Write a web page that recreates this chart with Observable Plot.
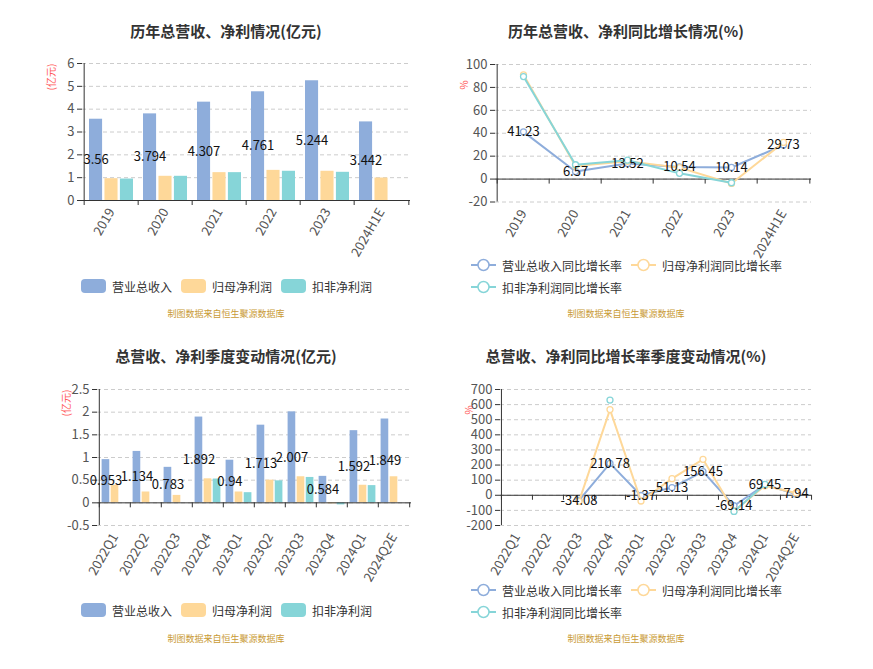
<!DOCTYPE html>
<html><head><meta charset="utf-8">
<script src="https://cdn.jsdelivr.net/npm/d3@7"></script>
<script src="https://cdn.jsdelivr.net/npm/@observablehq/plot@0.6"></script>
<style>
body{margin:0;background:#fff;font-family:"Noto Sans CJK SC","Noto Sans",sans-serif;}
#root{position:relative;width:873px;height:669px;overflow:hidden;background:#fff}
.abs{position:absolute;white-space:nowrap}
.c{transform:translate(-50%,-50%)}
.title{font-weight:bold;font-size:15px;color:#333}
.cap{font-size:9px;color:#c99a34}
.unit{font-size:10px;color:#ff5a5a;transform:translate(-50%,-50%) rotate(-90deg)}
.leg{font-size:12px;color:#333;display:flex;align-items:center}
.leg svg{margin-right:6px}
</style></head>
<body><div id="root"></div>
<script>
// ---------- data ----------
const years = ["2019","2020","2021","2022","2023","2024H1E"];
const barSeries = ["营业总收入","归母净利润","扣非净利润"];
const annualRevenue = [3.56,3.794,4.307,4.761,5.244,3.442];
const annualNetProfit = [0.956,1.06,1.22,1.32,1.28,0.985];
const annualDeducted = [0.94,1.06,1.22,1.28,1.235,null];

const growthSeries = ["营业总收入同比增长率","归母净利润同比增长率","扣非净利润同比增长率"];
const annualRevenueGrowth = [41.23,6.57,13.52,10.54,10.14,29.73];
const annualNetGrowth = [91,11.5,15.5,10,-3.8,32];
const annualDeductedGrowth = [89.5,12.5,16.5,5,-3.2,null];

const quarters = ["2022Q1","2022Q2","2022Q3","2022Q4","2023Q1","2023Q2","2023Q3","2023Q4","2024Q1","2024Q2E"];
const qRevenue = [0.953,1.134,0.783,1.892,0.94,1.713,2.007,0.584,1.592,1.849];
const qNetProfit = [0.388,0.239,0.164,0.53,0.239,0.5,0.575,-0.022,0.388,0.575];
const qDeducted = [null,null,null,0.525,0.224,0.485,0.56,-0.045,0.38,null];

const qRevenueGrowth = [null,null,-34.08,210.78,-1.37,51.13,156.45,-69.14,69.45,7.94];
const qNetGrowth = [null,null,-40,567,-38,110,238,-104,63,15];
const qDeductedGrowth = [null,null,null,630,null,null,null,-107,72,null];

const ticks1 = [0,1,2,3,4,5,6];
const ticks2 = [-20,0,20,40,60,80,100];
const ticks3 = [-0.5,0,0.5,1,1.5,2,2.5];
const ticks4 = [-200,-100,0,100,200,300,400,500,600,700];

const titles = ["历年总营收、净利情况(亿元)","历年总营收、净利同比增长情况(%)","总营收、净利季度变动情况(亿元)","总营收、净利同比增长率季度变动情况(%)"];
const caption = "制图数据来自恒生聚源数据库";

// ---------- style ----------
const colors = ["#8eaddb","#fed899","#86d5d8"];
const axisColor = "#333";
const labelColor = "#555";
const FONT = '"Noto Sans CJK SC","Noto Sans",sans-serif';
const root = document.getElementById("root");

function abs(html, x, y, cls){
  const d = document.createElement("div");
  d.className = "abs " + cls;
  d.style.left = x + "px"; d.style.top = y + "px";
  d.innerHTML = html;
  root.appendChild(d);
  return d;
}

function frameMarks(cats, step, yTicks){
  const n = cats.length;
  return [
    Plot.ruleY([0], {stroke: axisColor, strokeWidth: 1}),
    Plot.ruleX([cats[0]], {y1: yTicks[0], y2: yTicks[yTicks.length-1], dx: -step/2, stroke: axisColor}),
    Plot.ruleX(cats, {y1: 0, y2: 0, insetBottom: -5, dx: -step/2, stroke: axisColor}),
    Plot.ruleX([cats[n-1]], {y1: 0, y2: 0, insetBottom: -5, dx: step/2, stroke: axisColor}),
    Plot.axisX({tickSize: 0, tickPadding: 9, tickRotate: -60, fontSize: 13, fill: labelColor, label: null}),
    Plot.axisY({ticks: yTicks, tickSize: 5, tickPadding: 3, tickFormat: d => String(d), fontSize: 13, fill: labelColor, stroke: axisColor, label: null})
  ];
}

function barChart(cats, seriesVals, yTicks, m, pad, gap){
  const W = 436, H = 220;
  const n = cats.length;
  const step = (W - m.l - m.r) / n;
  const bw = (step - 2*pad - 2*gap) / 3;
  const marks = [Plot.gridY({ticks: yTicks, stroke: "#ccc", strokeOpacity: 1, strokeDasharray: "4,3"})];
  seriesVals.forEach((vals, k) => {
    const data = cats.map((c, i) => ({c, v: vals[i]})).filter(d => d.v != null);
    marks.push(Plot.barY(data, {x: "c", y: "v", fill: colors[k],
      insetLeft: pad + k*(bw+gap), insetRight: pad + (2-k)*(bw+gap)}));
  });
  marks.push(...frameMarks(cats, step, yTicks));
  const lab = cats.map((c, i) => ({c, v: seriesVals[0][i]}));
  marks.push(Plot.text(lab, {x: "c", y: d => d.v/2, text: d => String(d.v),
    dx: -step/2 + pad + bw/2, fontSize: 13, fill: "#111"}));
  return Plot.plot({
    width: W, height: H, marginLeft: m.l, marginRight: m.r, marginTop: m.t, marginBottom: m.b,
    style: {fontFamily: FONT, fontSize: "13px", background: "transparent", overflow: "visible"},
    x: {type: "band", domain: cats, padding: 0},
    y: {domain: [yTicks[0], yTicks[yTicks.length-1]]},
    marks
  });
}

function lineChart(cats, seriesVals, yTicks, m){
  const W = 436, H = 220;
  const n = cats.length;
  const step = (W - m.l - m.r) / n;
  const marks = [Plot.gridY({ticks: yTicks, stroke: "#ccc", strokeOpacity: 1, strokeDasharray: "4,3"})];
  marks.push(...frameMarks(cats, step, yTicks));
  seriesVals.forEach((vals, k) => {
    const data = cats.map((c, i) => ({c, v: vals[i] == null ? NaN : vals[i]}));
    marks.push(Plot.line(data, {x: "c", y: "v", stroke: colors[k], strokeWidth: 2}));
    marks.push(Plot.dot(data.filter(d => !isNaN(d.v)), {x: "c", y: "v", r: 3, fill: "white", stroke: colors[k], strokeWidth: 1.3}));
  });
  const lab = cats.map((c, i) => ({c, v: seriesVals[0][i]})).filter(d => d.v != null);
  marks.push(Plot.text(lab, {x: "c", y: "v", text: d => String(d.v), fontSize: 13, fill: "#111"}));
  return Plot.plot({
    width: W, height: H, marginLeft: m.l, marginRight: m.r, marginTop: m.t, marginBottom: m.b,
    style: {fontFamily: FONT, fontSize: "13px", background: "transparent", overflow: "visible"},
    x: {type: "band", domain: cats, padding: 0},
    y: {domain: [yTicks[0], yTicks[yTicks.length-1]]},
    marks
  });
}

function place(svg, x, y){
  const d = document.createElement("div");
  d.className = "abs";
  d.style.left = x + "px"; d.style.top = y + "px";
  d.appendChild(svg);
  root.appendChild(d);
}

function barLegend(y){
  const xs = [81, 181, 281];
  barSeries.forEach((s, k) => {
    const el = abs(`<svg width="25" height="14"><rect x="0" y="0" width="25" height="14" rx="4" fill="${colors[k]}"/></svg>${s}`, xs[k], y - 7, "leg");
    el.style.height = "14px";
  });
}
function lineLegend(y1, y2){
  const pos = [[471, y1], [631, y1], [471, y2]];
  growthSeries.forEach((s, k) => {
    const el = abs(`<svg width="25" height="14"><line x1="0" x2="25" y1="7" y2="7" stroke="${colors[k]}" stroke-width="2"/><circle cx="12.5" cy="7" r="5.5" fill="white" stroke="${colors[k]}" stroke-width="1.5"/></svg>${s}`, pos[k][0], pos[k][1] - 7, "leg");
    el.style.height = "14px";
  });
}

// titles
abs(titles[0], 226, 30, "title c");
abs(titles[1], 626, 30, "title c");
abs(titles[2], 226, 355, "title c");
abs(titles[3], 626, 355, "title c");

// unit labels
abs("(亿元)", 50, 77, "unit");
abs("%", 463, 85, "unit");
abs("(亿元)", 65, 403, "unit");
abs("%", 468, 410, "unit");

// charts
place(barChart(years, [annualRevenue, annualNetProfit, annualDeducted], ticks1, {l: 82, r: 26, t: 23, b: 60}, 5, 1.7), 0, 40);
place(lineChart(years, [annualRevenueGrowth, annualNetGrowth, annualDeductedGrowth], ticks2, {l: 58, r: 62, t: 24, b: 58.5}), 437, 40);
place(barChart(quarters, [qRevenue, qNetProfit, qDeducted], ticks3, {l: 97, r: 25, t: 24, b: 60}, 2.6, 1), 0, 365);
place(lineChart(quarters, [qRevenueGrowth, qNetGrowth, qDeductedGrowth], ticks4, {l: 63, r: 62, t: 24, b: 60}), 437, 365);

// legends
barLegend(286);
lineLegend(265, 287);
barLegend(610);
lineLegend(590, 612);

// captions
abs(caption, 226, 313, "cap c");
abs(caption, 626, 313, "cap c");
abs(caption, 226, 638, "cap c");
abs(caption, 626, 638, "cap c");
</script></body></html>
